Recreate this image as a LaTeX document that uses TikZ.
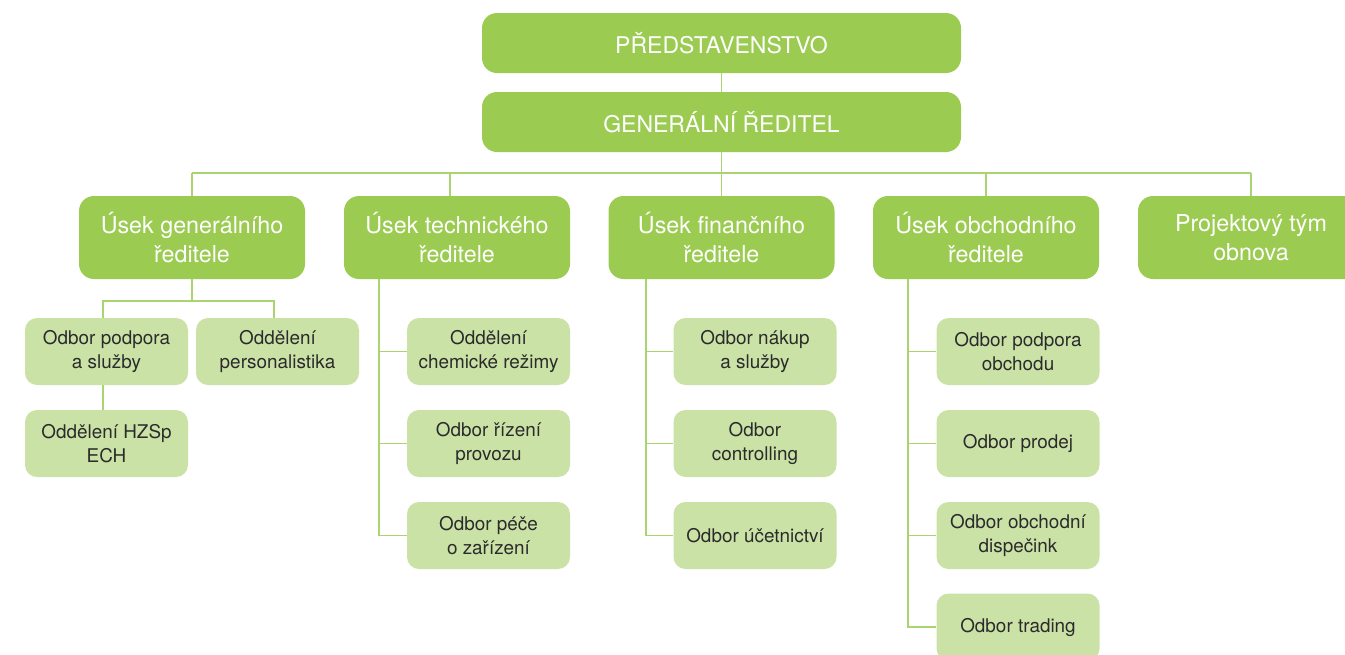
\documentclass[tikz,border=0pt]{standalone}
\usepackage{fontspec}
\setmainfont{TeX Gyre Heros}
\definecolor{dk}{HTML}{9BCB51}
\definecolor{lt}{HTML}{CBE2A7}
\definecolor{ln}{HTML}{A9D46F}
\definecolor{tx}{HTML}{2B2B2B}
\begin{document}
\begin{tikzpicture}[x=1pt,y=-1pt,
  topbox/.style={rectangle, rounded corners=15pt, fill=dk, text=white, minimum width=479pt, minimum height=60pt, inner sep=0pt, font=\fontsize{23}{27}\selectfont},
  midbox/.style={rectangle, rounded corners=15pt, fill=dk, text=white, minimum width=226pt, minimum height=83pt, inner sep=0pt, align=center, font=\fontsize{23.3}{29.5}\selectfont},
  subbox/.style={rectangle, rounded corners=12pt, fill=lt, text=tx, minimum width=163pt, minimum height=67pt, inner sep=0pt, align=center, font=\fontsize{18.9}{24}\selectfont},
  conn/.style={draw=ln, line width=1.6pt}]
\useasboundingbox (0,0) rectangle (1345,654);

\node[topbox] (ps) at (721.5,43) {PŘEDSTAVENSTVO};
\node[topbox] (gr) at (721.5,122) {GENERÁLNÍ ŘEDITEL};

\node[midbox] (ug) at (192,237.5) {Úsek generálního\\ředitele};
\node[midbox] (ut) at (457,237.5) {Úsek technického\\ředitele};
\node[midbox] (uf) at (721.5,237.5) {Úsek finančního\\ředitele};
\node[midbox] (uo) at (986,237.5) {Úsek obchodního\\ředitele};
\node[midbox] (pt) at (1251,237.5) {Projektový tým\\obnova};

\node[subbox] (ops) at (106.5,351.5) {Odbor podpora\\a služby};
\node[subbox] (per) at (277.5,351.5) {Oddělení\\personalistika};
\node[subbox] (hz) at (106.5,443.5) {Oddělení HZSp\\ECH};

\node[subbox] (che) at (488.5,351.5) {Oddělení\\chemické režimy};
\node[subbox] (rp) at (488.5,443.5) {Odbor řízení\\provozu};
\node[subbox] (pz) at (488.5,535.5) {Odbor péče\\o zařízení};

\node[subbox] (nak) at (755,351.5) {Odbor nákup\\a služby};
\node[subbox] (con) at (755,443.5) {Odbor\\controlling};
\node[subbox] (uce) at (755,535.5) {Odbor účetnictví};

\node[subbox] (pob) at (1018,351.5) {Odbor podpora\\obchodu};
\node[subbox] (pro) at (1018,443.5) {Odbor prodej};
\node[subbox] (dis) at (1018,535.5) {Odbor obchodní\\dispečink};
\node[subbox] (tra) at (1018,627) {Odbor trading};

\coordinate (busL) at (192,173);
\coordinate (busR) at (1251,173);

\draw[conn] (ps.south) -- (gr.north);
\draw[conn] (gr.south) -- (gr.south |- busL);
\draw[conn] (busL) -- (busR);
\draw[conn] (ug.north) -- (ug.north |- busL);
\draw[conn] ([xshift=-7pt]ut.north) -- ([xshift=-7pt]ut.north |- busL);
\draw[conn] (uf.north) -- (uf.north |- busL);
\draw[conn] (uo.north) -- (uo.north |- busL);
\draw[conn] (pt.north) -- (pt.north |- busL);

\coordinate (gsplit) at (192,301);
\draw[conn] (ug.south) -- (gsplit);
\draw[conn] ([xshift=-3.5pt]ops.north) |- (gsplit) -| ([xshift=-3.5pt]per.north);
\draw[conn] ([xshift=-3.5pt]ops.south) -- ([xshift=-3.5pt]hz.north);

\draw[conn] ([xshift=-78pt]ut.south) |- (che.west);
\draw[conn] ([xshift=-78pt]ut.south) |- (rp.west);
\draw[conn] ([xshift=-78pt]ut.south) |- (pz.west);

\draw[conn] ([xshift=-75.5pt]uf.south) |- (nak.west);
\draw[conn] ([xshift=-75.5pt]uf.south) |- (con.west);
\draw[conn] ([xshift=-75.5pt]uf.south) |- (uce.west);

\draw[conn] ([xshift=-78pt]uo.south) |- (pob.west);
\draw[conn] ([xshift=-78pt]uo.south) |- (pro.west);
\draw[conn] ([xshift=-78pt]uo.south) |- (dis.west);
\draw[conn] ([xshift=-78pt]uo.south) |- (tra.west);
\end{tikzpicture}
\end{document}
